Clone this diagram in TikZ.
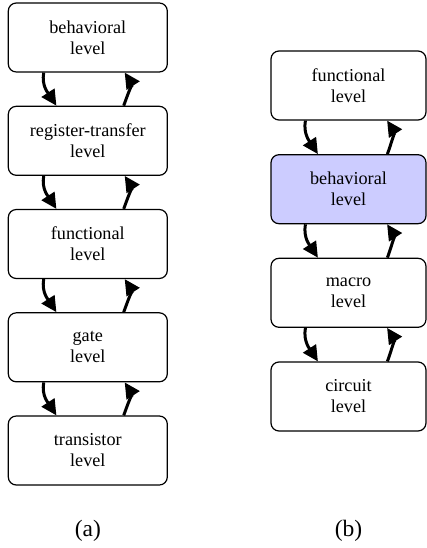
\documentclass[tikz,border=0pt]{standalone}
\usepackage{fontspec}
\setmainfont{Liberation Serif}
\usetikzlibrary{arrows.meta}
\begin{document}
\begin{tikzpicture}[x=1pt,y=-1pt,
  level/.style={draw=black, line width=1.2pt, rounded corners=8pt, fill=white,
    minimum height=69pt, align=center, inner sep=0pt,
    font=\fontsize{18.2}{21}\selectfont,
    execute at begin node={\rule{0pt}{12.5pt}}},
  leftlevel/.style={level, minimum width=159pt},
  rightlevel/.style={level, minimum width=155pt},
  link/.style={line width=3pt, -{Triangle[length=15.5pt,width=15pt]}},
  caption/.style={font=\fontsize{23.5}{28}\selectfont, inner sep=0pt, anchor=base}]
\useasboundingbox (0,0) rectangle (427,548);

% (a) abstraction levels of a digital design
\node[leftlevel] (a1) at (87.8,37.5)  {behavioral\\level};
\node[leftlevel] (a2) at (87.8,140.8) {register-transfer\\level};
\node[leftlevel] (a3) at (87.8,244)   {functional\\level};
\node[leftlevel] (a4) at (87.8,347.3) {gate\\level};
\node[leftlevel] (a5) at (87.8,450.5) {transistor\\level};

% (b) levels of an analog design
\node[rightlevel] (b1) at (348.5,85.5)  {functional\\level};
\node[rightlevel, fill={rgb,255:red,204;green,204;blue,255}] (b2) at (348.5,189.2) {behavioral\\level};
\node[rightlevel] (b3) at (348.5,292.8) {macro\\level};
\node[rightlevel] (b4) at (348.5,396.5) {circuit\\level};

% refinement (down) and abstraction (up) arrows
\foreach \u/\l in {a1/a2,a2/a3,a3/a4,a4/a5}{
  \draw[link] ([xshift=36pt]\u.south west) to[out=-100,in=123] ([xshift=48.7pt]\l.north west);
  \draw[link] ([xshift=116pt]\l.north west) to[out=70,in=-57] ([xshift=117pt]\u.south west);
}
\foreach \u/\l in {b1/b2,b2/b3,b3/b4}{
  \draw[link] ([xshift=35pt]\u.south west) to[out=-100,in=123] ([xshift=47.5pt]\l.north west);
  \draw[link] ([xshift=117pt]\l.north west) to[out=70,in=-57] ([xshift=116.7pt]\u.south west);
}

\node[caption] (capa) at (87.8,536.5) {(a)};
\node[caption] (capb) at (348.5,536.5) {(b)};
\end{tikzpicture}
\end{document}
